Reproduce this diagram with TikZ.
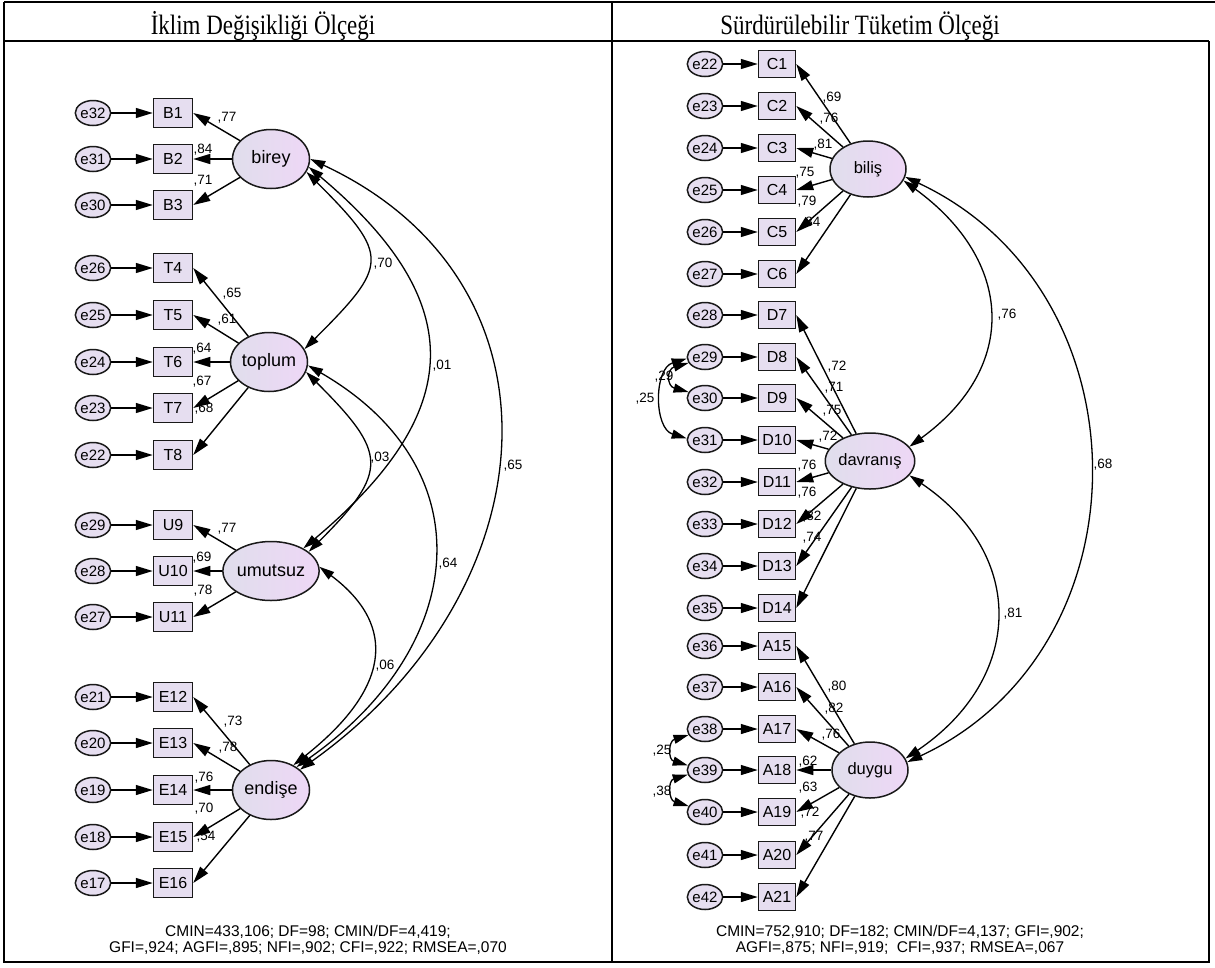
\documentclass[tikz,border=0pt]{standalone}
\usepackage{fontspec}
\usepackage{graphicx}
\setmainfont{Liberation Serif}
\setsansfont{Liberation Sans}
\usetikzlibrary{arrows.meta,shapes.geometric}

\definecolor{boxfill}{RGB}{230,222,240}
\definecolor{latleft}{RGB}{224,222,236}
\definecolor{latright}{RGB}{238,215,246}
\definecolor{edge}{RGB}{25,25,25}

\tikzset{
  ind/.style={draw=edge, line width=1.5pt, fill=boxfill, minimum width=39pt,
    minimum height=29pt, inner sep=0pt, font=\sffamily\fontsize{16}{16}\selectfont},
  indR/.style={ind, minimum width=37pt, minimum height=27pt},
  err/.style={ellipse, draw=edge, line width=1.5pt, fill=boxfill, minimum width=29pt,
    minimum height=25pt, inner sep=0pt, font=\sffamily\fontsize{15}{15}\selectfont},
  lat/.style={ellipse, draw=edge, line width=1.5pt, left color=latleft, right color=latright,
    minimum width=77pt, minimum height=59pt, inner sep=0pt, font=\sffamily\fontsize{18}{18}\selectfont},
  latR/.style={lat, minimum width=76pt, minimum height=56pt, font=\sffamily\fontsize{16.5}{16.5}\selectfont},
  arr/.style={line width=1.4pt, -{Triangle[length=17pt,width=10pt]}},
  cov/.style={line width=1.3pt, {Triangle[length=15pt,width=9pt]}-{Triangle[length=15pt,width=9pt]}},
  coef/.style={font=\sffamily\fontsize{13.5}{13.5}\selectfont, inner sep=0pt},
  fitstat/.style={font=\sffamily\fontsize{15.5}{16.5}\selectfont, align=center, inner sep=0pt},
  head/.style={font=\fontsize{28}{30}\selectfont, inner sep=0pt, anchor=base},
  tab/.style={line width=1.6pt, black}
}

\begin{document}
\begin{tikzpicture}[x=1pt,y=-1pt]
\useasboundingbox (0,0) rectangle (1215,967);

% table
\draw[tab] (4,2) -- (1215,2);
\draw[tab] (4,41) -- (1209,41);
\draw[tab] (4,2) -- (4,962) -- (1209,962) -- (1209,41);
\draw[tab] (612,2) -- (612,962);
\node[head] (headL) at (263,34) {\scalebox{0.82}[1]{İklim Değişikliği Ölçeği}};
\node[head] (headR) at (860,34) {\scalebox{0.82}[1]{Sürdürülebilir Tüketim Ölçeği}};

% left model
\node[lat] (birey) at (271,159) {birey};
\node[lat] (toplum) at (269,362) {toplum};
\node[lat] (umutsuz) at (271,571) {umutsuz};
\node[lat] (endise) at (271,790) {endişe};

\foreach \ind/\err/\yy/\lat/\cx/\cy/\val in {
  B1/e32/113/birey/227/118/77, B2/e31/159/birey/203/150/84, B3/e30/205/birey/203/181/71,
  T4/e26/268/toplum/232/294/65, T5/e25/315/toplum/227/320/61, T6/e24/362/toplum/202/349/64,
  T7/e23/408/toplum/202/382/67, T8/e22/455/toplum/204/409/68,
  U9/e29/525/umutsuz/227/529/77, U10/e28/571/umutsuz/202/558/69, U11/e27/617/umutsuz/203/591/78,
  E12/e21/697/endise/233/722/73, E13/e20/743/endise/228/748/78, E14/e19/790/endise/204/778/76,
  E15/e18/837/endise/204/809/70, E16/e17/883/endise/206/837/54}
{
  \node[ind] (\ind) at (173,\yy) {\ind};
  \node[err] (e\ind) at (93,\yy) {\err};
  \draw[arr] (e\ind) -- (\ind);
  \draw[arr] (\lat) -- (\ind.east);
  \node[coef] at (\cx,\cy) {,\val};
}

\draw[cov] (birey.-20) .. controls +(84,84) and +(84,-84) .. (toplum.20);
\draw[cov] (birey.-12) .. controls +(162,136) and +(162,-136) .. (umutsuz.35);
\draw[cov] (birey.0) .. controls +(264,123) and +(252,-180) .. (endise.35);
\draw[cov] (toplum.-15) .. controls +(81,81) and +(81,-81) .. (umutsuz.27);
\draw[cov] (toplum.-5) .. controls +(180,104) and +(170,-119) .. (endise.42);
\draw[cov] (umutsuz.5) .. controls +(80,60) and +(95,-75) .. (endise.48);
\node[coef] at (383,264) {,70};
\node[coef] at (442,366) {,01};
\node[coef] at (513,466) {,65};
\node[coef] at (380,458) {,03};
\node[coef] at (448,564) {,64};
\node[coef] at (385,666) {,06};

\node[fitstat] (fitL) at (308,940) {CMIN=433,106; DF=98; CMIN/DF=4,419;\\
  GFI=,924; AGFI=,895; NFI=,902; CFI=,922; RMSEA=,070};

% right model
\node[latR] (bilis) at (868,169) {biliş};
\node[latR] (davranis) at (870,461) {davranış};
\node[latR] (duygu) at (870,770) {duygu};

\foreach \ind/\err/\yy/\lat/\cx/\cy/\val in {
  C1/e22/64/bilis/832/98/69, C2/e23/106/bilis/829/119/76, C3/e24/148/bilis/823/145/81,
  C4/e25/190/bilis/805/173/75, C5/e26/232/bilis/807/202/79, C6/e27/274/bilis/811/223/84,
  D7/e28/315/davranis/837/367/72, D8/e29/357/davranis/834/388/71, D9/e30/398/davranis/832/411/75,
  D10/e31/440/davranis/828/437/72, D11/e32/482/davranis/807/466/76, D12/e33/524/davranis/807/493/76,
  D13/e34/566/davranis/812/517/82, D14/e35/608/davranis/812/538/74,
  A15/e36/646/duygu/837/687/80, A16/e37/687/duygu/834/709/82, A17/e38/729/duygu/831/735/76,
  A18/e39/770/duygu/808/762/62, A19/e40/812/duygu/808/788/63, A20/e41/855/duygu/810/813/72,
  A21/e42/897/duygu/814/837/77}
{
  \node[indR] (\ind) at (777,\yy) {\ind};
  \node[err] (e\ind) at (705,\yy) {\err};
  \draw[arr] (e\ind) -- (\ind);
  \draw[arr] (\lat) -- (\ind.east);
  \node[coef] at (\cx,\cy) {,\val};
}

\draw[cov] (bilis.-18) .. controls +(110,80) and +(110,-80) .. (davranis.20);
\draw[cov] (davranis.-20) .. controls +(118,80) and +(118,-80) .. (duygu.18);
\draw[cov] (bilis.-12) .. controls +(244,114) and +(244,-114) .. (duygu.12);
\node[coef] at (1007,315) {,76};
\node[coef] at (1013,614) {,81};
\node[coef] at (1103,465) {,68};

% error covariances
\draw[cov] (eD8.200) .. controls +(-22,6) and +(-22,-6) .. (eD9.160);
\draw[cov] (eD8.185) .. controls +(-33,10) and +(-33,-10) .. (eD10.175);
\draw[cov] (eA17.200) .. controls +(-20,6) and +(-20,-6) .. (eA18.165);
\draw[cov] (eA18.195) .. controls +(-20,6) and +(-20,-6) .. (eA19.160);
\node[coef] at (664,377) {,29};
\node[coef] at (645,399) {,25};
\node[coef] at (662,751) {,25};
\node[coef] at (662,792) {,38};

\node[fitstat] (fitR) at (900,940) {CMIN=752,910; DF=182; CMIN/DF=4,137; GFI=,902;\\
  AGFI=,875; NFI=,919;\ \ CFI=,937; RMSEA=,067};
\end{tikzpicture}
\end{document}
